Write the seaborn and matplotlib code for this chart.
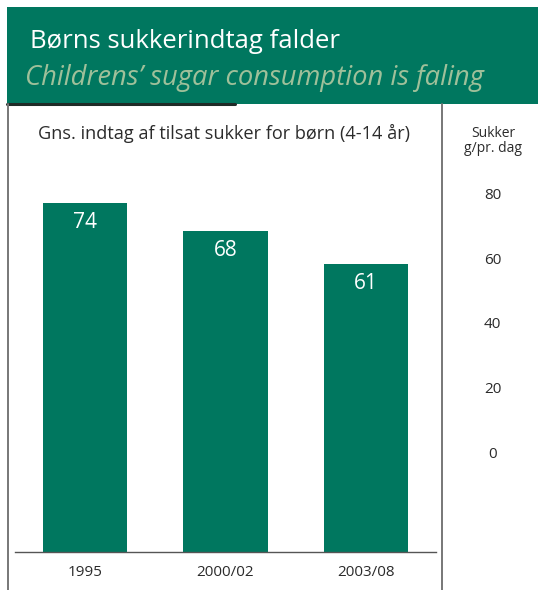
import matplotlib.pyplot as plt
import seaborn as sns
from matplotlib.patches import Rectangle
from matplotlib.lines import Line2D

# data
periods = ["1995", "2000/02", "2003/08"]
sugar = [74, 68, 61]
scale_ticks = [0, 20, 40, 60, 80]

title = "Børns sukkerindtag falder"
subtitle = "Childrens’ sugar consumption is faling"
chart_note = "Gns. indtag af tilsat sukker for børn (4-14 år)"
unit_top = "Sukker"
unit_bottom = "g/pr. dag"

GREEN = "#00775f"
W, H = 538, 590

sns.set_theme(style="white")
plt.rcParams["font.family"] = ["Open Sans", "DejaVu Sans"]

fig = plt.figure(figsize=(W / 100, H / 100), dpi=100)


def box(x0, y0, x1, y1):
    # pixel box (top-left origin) -> figure fraction rect
    return [x0 / W, 1 - y1 / H, (x1 - x0) / W, (y1 - y0) / H]


def fy(y):
    return 1 - y / H


# header band
fig.add_artist(Rectangle((7 / W, fy(104)), (W - 7) / W, 97 / H,
                         transform=fig.transFigure, color=GREEN, lw=0))
fig.add_artist(Line2D([7 / W, 235 / W], [fy(103.5)] * 2, transform=fig.transFigure,
                      color="#1f2b27", lw=2.2))
# frame lines
fig.add_artist(Line2D([7.5 / W] * 2, [0, fy(104)], transform=fig.transFigure,
                      color="#777777", lw=1.4))
fig.add_artist(Line2D([442 / W] * 2, [0, fy(104)], transform=fig.transFigure,
                      color="#777777", lw=1.4))

fig.text(30 / W, fy(48), title, color="white", fontsize=18.5, va="baseline")
fig.text(25 / W, fy(85), subtitle, color="#9fc09a", fontsize=19.7,
         style="italic", va="baseline")
fig.text(224.5 / W, fy(139), chart_note, color="#2b2b2b", fontsize=13.1,
         ha="center", va="baseline")
fig.text(493 / W, fy(137), unit_top, color="#2b2b2b", fontsize=10,
         ha="center", va="baseline")
fig.text(493 / W, fy(152), unit_bottom, color="#2b2b2b", fontsize=10,
         ha="center", va="baseline")

# bars
ax = fig.add_axes(box(15, 110, 436, 552))
sns.barplot(x=periods, y=sugar, color=GREEN, saturation=1, width=0.6,
            linewidth=0, ax=ax)
ax.set_xlim(-0.5, 2.5)
ax.set_ylim(0, 93.6)
ax.set_yticks([])
ax.set_xlabel("")
ax.set_ylabel("")
for s in ["left", "right", "top"]:
    ax.spines[s].set_visible(False)
ax.spines["bottom"].set_color("#555555")
ax.spines["bottom"].set_linewidth(1)
ax.tick_params(axis="x", length=0, pad=9, labelsize=11, colors="#2b2b2b")
ax.patch.set_visible(False)

for bar, v in zip(ax.patches, sugar):
    ax.annotate(str(v), (bar.get_x() + bar.get_width() / 2, bar.get_height()),
                xytext=(0, -14.4), textcoords="offset points",
                ha="center", va="center", color="white", fontsize=15)

# separate value scale on the right (as in the original, not tied to bars)
ax2 = fig.add_axes(box(492.5, 193.5, 493.5, 452))
ax2.set_ylim(0, 80)
ax2.set_yticks(scale_ticks)
ax2.set_xticks([])
ax2.tick_params(axis="y", length=0, pad=0, labelsize=11, colors="#2b2b2b")
for lbl in ax2.get_yticklabels():
    lbl.set_ha("center")
for s in ax2.spines.values():
    s.set_visible(False)
ax2.patch.set_visible(False)

fig.savefig("out.png", dpi=100)
